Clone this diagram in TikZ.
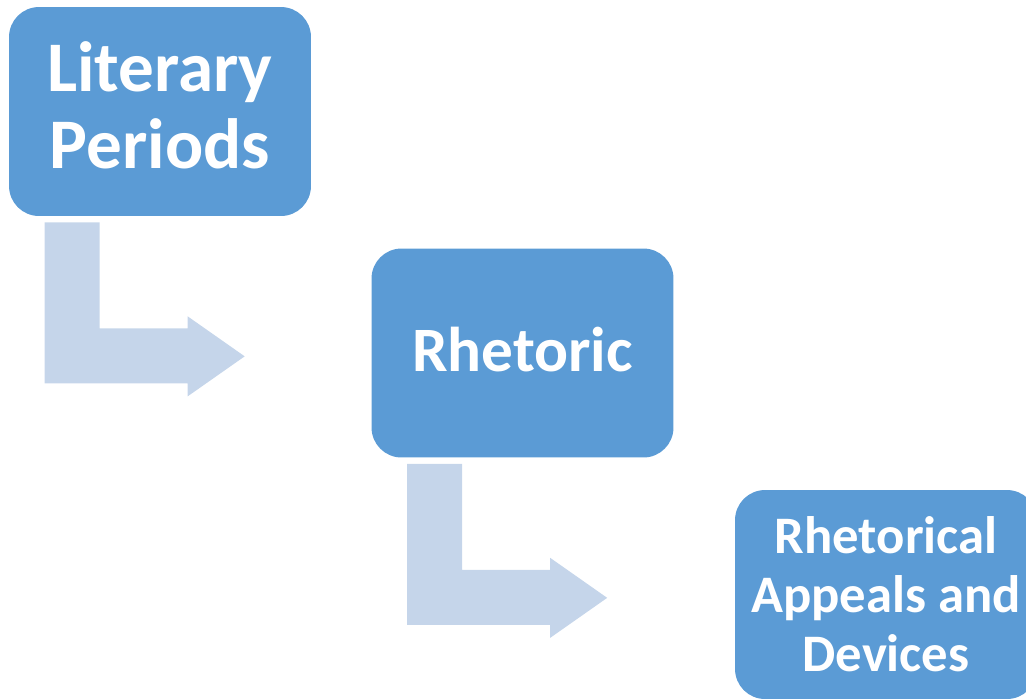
\documentclass[tikz,border=0pt]{standalone}
\usepackage{fontspec}
\setmainfont{Carlito}
\usepackage{tikz}

\definecolor{boxblue}{HTML}{5B9BD5}
\definecolor{arrowblue}{HTML}{C5D5EA}

\tikzset{
    stage/.style={fill=boxblue, rounded corners=0.6cm, text=white,
        font=\bfseries, align=center, inner sep=0pt,
        minimum width=6.04cm, minimum height=4.18cm},
    bigtext/.style={font=\bfseries\fontsize{40.5}{44}\selectfont, text depth=7pt},
    midtext/.style={font=\bfseries\fontsize{36}{40}\selectfont, text depth=4.5pt},
    smalltext/.style={font=\bfseries\fontsize{30}{33.5}\selectfont},
    bentarrow/.style={fill=arrowblue}
}

\begin{document}
\begin{tikzpicture}[x=0.02cm, y=-0.02cm]
        \clip (0,0) rectangle (1026,698);

        \node[stage, bigtext] (lit) at (160,111.5) {Literary\\Periods};
        \node[stage, midtext] (rhet) at (522.5,353) {Rhetoric};
        \node[stage, smalltext] (dev) at (886,594.5) {Rhetorical\\Appeals and\\Devices};

        \foreach \src in {lit,rhet}
            \fill[bentarrow, shift={(\src.south west)}]
                (36,6) -- (91,6) -- (91,112) -- (179,112) -- (179,100)
                -- (236,140) -- (179,180) -- (179,167) -- (36,167) -- cycle;
    \end{tikzpicture}
\end{document}
